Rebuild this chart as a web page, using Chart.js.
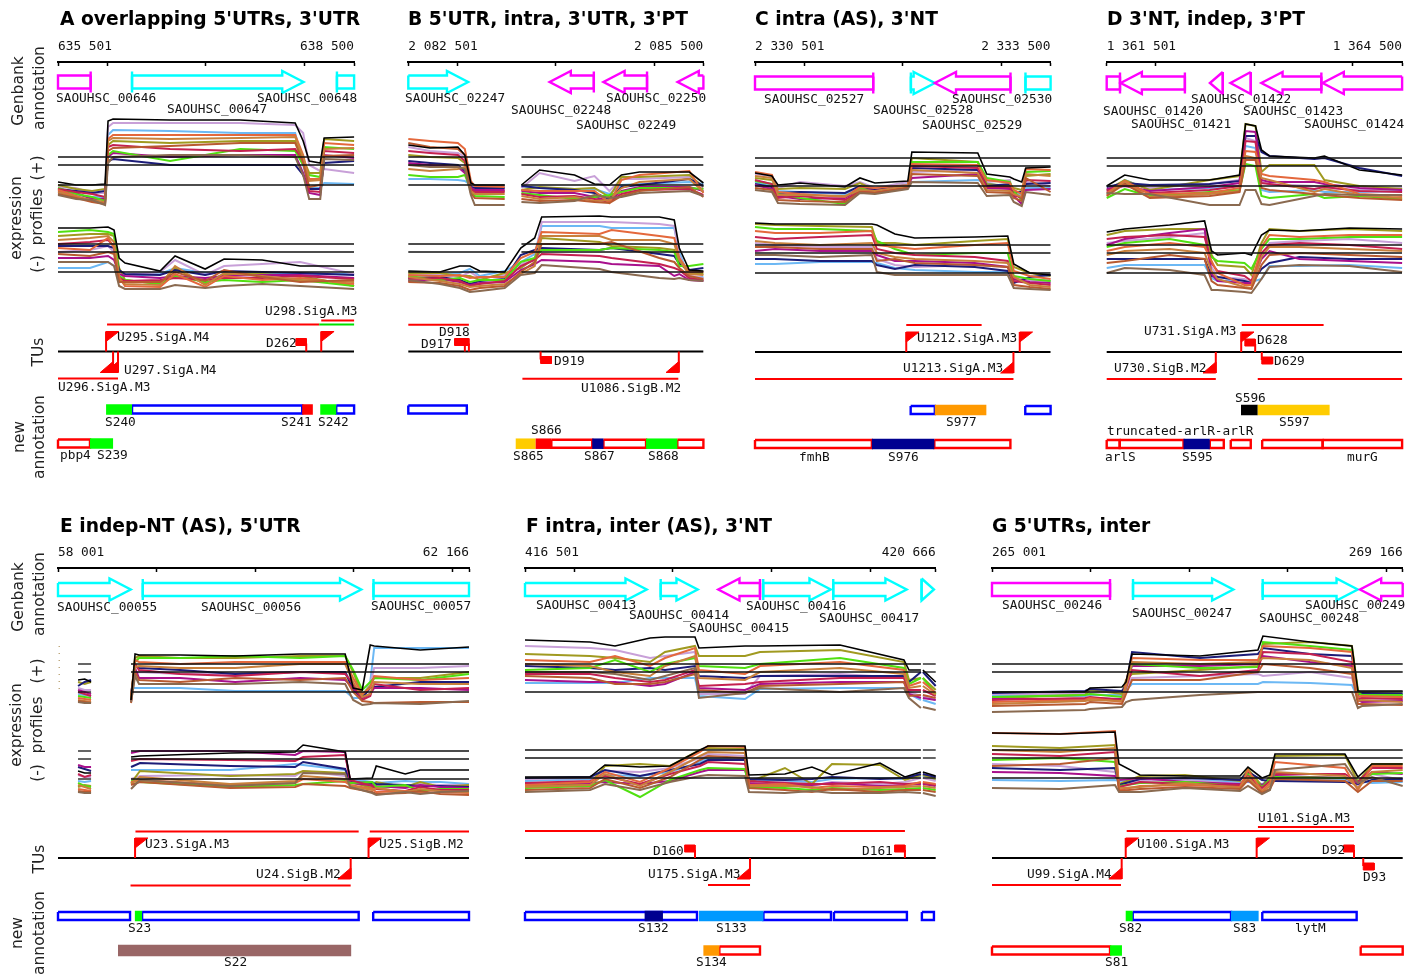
<!DOCTYPE html>
<html><head><meta charset="utf-8"><title>Expression profiles</title>
<script src="https://cdn.jsdelivr.net/npm/chart.js@4"></script>
<style>html,body{margin:0;padding:0;background:#fff;width:1416px;height:974px;overflow:hidden}canvas{position:absolute;display:block}</style>
</head><body>
<script>
// Series colours for the profile arrays, paint order
const profileColors=['#6cb8f4','#c8a0d8','#a09a20','#1c1c78','#a8108c','#50e010','#c42050','#e4683c','#c8803c','#b85a30','#8a6a50','#000000'];

// Panel A
const aPlusX=[0,183,345,477,507,558,1136,1846,2403,2484,2545,2657,2697,3000];
const aPlus=[[-8,-10,-12,-12,50,55,54,52,52,20,-3,-3,2,1],[-2,-3,-8,-8,58,62,62,62,60,52,20,14,16,12],[0,-4,-6,-4,40,44,42,44,44,26,12,12,46,44],[-4,-6,-8,-6,24,26,20,20,20,10,-4,-4,22,24],[-6,-8,-14,-14,28,32,28,30,30,12,-8,-10,30,27],[-3,-9,-12,-16,30,34,24,36,34,20,10,8,38,36],[-4,-7,-9,-12,38,40,36,34,36,24,-6,-7,34,32],[-5,-11,-16,-18,46,50,50,50,50,30,6,6,42,40],[-7,-12,-15,-17,44,47,46,47,48,28,4,5,36,37],[-9,-13,-17,-19,34,37,39,42,42,22,-2,0,29,30],[-10,-14,-15,-20,22,28,30,30,28,10,-14,-14,26,25],[3,0,0,1,64,66,65,65,62,44,24,22,47,48]];
const aMinusX=[0,324,507,568,619,679,1034,1186,1491,1683,2069,2454,3000];
const aMinus=[[4,4,10,6,-4,-4,-2,4,-1,0,-2,-2,-2],[20,22,26,20,-3,-3,0,12,-3,6,8,10,-2],[36,38,38,36,4,-8,-12,4,-12,-2,-2,-4,-14],[26,26,26,24,2,-2,-3,2,-3,1,0,-1,-3],[14,14,16,12,-2,-4,-6,-4,-6,-4,-3,-3,-6],[40,42,40,38,-4,-8,-12,-4,-10,-8,-10,-8,-14],[28,30,32,26,-6,-9,-8,-6,-8,-6,-6,-4,-7],[24,22,34,24,-5,-14,-15,-2,-15,-4,-8,-6,-12],[32,34,36,30,-8,-12,-13,6,-13,-1,-4,-8,-10],[18,16,20,18,-10,-10,-10,0,-9,2,-5,-10,-8],[10,10,10,6,-14,-17,-17,-13,-16,-14,-12,-14,-17],[44,44,45,42,14,9,1,16,3,13,12,6,6]];
const aGenes=[[331,0,'h'],[750,2487,''],[2826,3000,'h']];
const aSpans=[[497,2647,'top','#ff0000'],[2667,3000,'top2','#ff0000'],[2647,3000,'top','#00e000'],[0,608,'low','#ff0000']];
const aMarks=[[487,'F'],[558,'R'],[608,'R'],[2515,'D'],[2667,'F']];
const aBoxesTop=[[750,2474,'b'],[2819,3000,'b'],[487,750,'#00ff00'],[2474,2582,'#ff0000'],[2657,2819,'#00ff00']];
const aBoxesLow=[[0,324,'r'],[324,558,'#00ff00']];
const aText=[['SAOUHSC_00646',56,98],['SAOUHSC_00647',167,109],['SAOUHSC_00648',257,98],['U295.SigA.M4',117,337],['U298.SigA.M3',265,311],['D262',266,343],['U297.SigA.M4',124,370],['U296.SigA.M3',58,387],['S240',105,422],['S241',281,422],['S242',318,422],['pbp4',60,455],['S239',97,455]];

// Panel B
const bPlusX=[0,220,504,575,636,676,980,1150,1335,1690,1893,2045,2167,2349,2857,3000];
const bPlus=[[6,6,5,4,0,-1,-1,-1,-3,-4,-4,-9,0,1,3,1],[38,34,32,28,0,-2,-3,-3,12,4,9,-6,6,6,8,-4],[30,28,27,22,-2,-5,-6,-5,-2,-4,-3,-12,8,8,10,-2],[24,22,20,14,-2,-3,-3,-1,-3,-5,-8,-14,-2,0,6,-1],[22,20,18,12,-3,-5,-5,-6,-8,-8,-12,-16,-6,-2,-2,-6],[10,8,8,10,-4,-11,-12,-8,-10,-14,-12,-10,-7,-3,-3,-4],[34,32,30,24,-4,-7,-7,-9,-12,-11,-14,-17,-9,-5,-4,-10],[46,44,42,36,4,-1,-2,-5,-6,-6,-6,-18,5,10,14,-8],[16,14,16,18,-6,-9,-9,-11,-14,-12,-16,-15,-3,3,6,-7],[42,38,36,30,-8,-13,-14,-14,-16,-15,-17,-18,-11,-6,-2,-12],[20,18,18,16,-10,-20,-20,-17,-18,-16,-10,-13,-12,-8,-6,-11],[40,37,38,30,2,0,0,0,15,10,1,0,10,13,13,2]];
const bMinusX=[0,321,524,626,727,980,1143,1285,1356,1944,2066,2552,2704,2755,2856,3000];
const bMinus=[[-3,-2,-1,3,-4,1,10,18,46,46,44,44,44,20,-6,-5],[-2,-3,-5,0,-6,-3,8,12,50,50,50,48,46,16,-4,-6],[-1,-1,-4,-4,-8,-1,4,14,34,30,26,24,22,10,-1,-2],[-6,-5,-8,-12,-9,-7,17,22,24,22,24,18,16,8,2,4],[-9,-7,-10,-13,-11,-10,2,8,12,10,8,6,-4,-2,-8,-9],[-4,-8,-6,-10,-8,-8,10,14,22,22,24,22,20,6,6,8],[-7,-6,-9,-14,-12,-9,6,12,18,16,14,8,4,2,-6,-8],[-3,-4,-3,-6,-5,-5,14,20,40,38,42,36,34,14,0,0],[-5,-9,-12,-15,-14,-12,-2,6,36,36,32,32,28,12,-2,-3],[-10,-11,-14,-18,-16,-14,0,10,28,28,30,14,10,4,-4,-7],[-8,-12,-16,-20,-19,-16,-3,-1,7,3,0,-6,-7,-6,-8,-9],[1,0,6,6,1,0,24,34,55,56,55,55,52,24,2,1]];
const bGenes=[[0,608,'b'],[1886,1437,''],[2427,1984,''],[3000,2738,'b']];
const bSpans=[[0,616,'top','#ff0000'],[1160,2745,'low','#ff0000']];
const bMarks=[[575,'D'],[616,'D'],[1345,'d'],[2750,'R']];
const bBoxesTop=[[0,595,'b']];
const bBoxesLow=[[1454,1870,'r'],[1984,2417,'r'],[2735,3000,'r'],[1092,1295,'#ffcc00'],[1295,1454,'#ff0000'],[1870,1984,'#000090'],[2417,2735,'#00ff00']];
const bText=[['SAOUHSC_02247',405,98],['SAOUHSC_02248',511,110],['SAOUHSC_02249',576,125],['SAOUHSC_02250',606,98],['D918',439,332],['D917',421,344],['D919',554,361],['U1086.SigB.M2',581,388],['S866',531,430],['S865',513,456],['S867',584,456],['S868',648,456]];

// Panel C
const cPlusX=[0,172,233,456,913,1065,1217,1551,1592,2261,2352,2586,2626,2707,2748,3000];
const cPlus=[[4,0,-5,-6,-8,-2,-4,2,4,6,3,-2,-8,-8,-2,-2],[12,10,-2,4,0,4,-2,4,14,16,4,6,-10,-10,4,0],[8,6,-3,-2,-3,3,-4,-1,28,24,2,0,-2,-4,10,12],[2,-1,-7,-6,-7,0,-4,0,18,16,0,2,-6,-6,2,3],[1,-3,-10,-13,-12,-3,-5,0,8,12,-2,-3,-10,-18,-4,-3],[5,2,-8,-12,-18,-2,-7,-2,24,24,8,4,-5,-14,14,15],[6,2,-12,-10,-14,-5,-6,-1,20,18,-1,-1,-9,-12,6,5],[14,11,-6,-8,-11,-1,-2,1,22,21,6,3,-4,-8,17,16],[10,8,-9,-9,-10,-4,-5,0,16,13,-4,-5,-8,-11,12,10],[-2,-4,-14,-15,-16,-6,-7,-2,12,10,-6,-7,-12,-15,8,-6],[-4,-6,-17,-18,-19,-7,-8,-3,4,3,-10,-9,-16,-20,-6,-9],[13,10,1,3,-1,8,3,5,34,33,12,9,7,4,18,19]];
const cMinusX=[0,203,659,1186,1237,1420,1622,2231,2565,2626,2789,3000];
const cMinus=[[9,9,11,11,10,5,3,1,1,-5,-6,-8],[30,28,26,26,14,8,6,8,6,-5,-7,-8],[49,48,47,46,30,30,28,32,34,6,0,-3],[14,14,12,12,8,4,8,6,2,-10,-4,-2],[22,24,22,22,18,12,12,10,6,-6,-9,-10],[46,44,44,42,32,24,18,20,20,-3,-6,-8],[36,34,36,38,24,20,18,16,12,-8,-10,-12],[42,40,40,42,28,26,24,28,30,2,-3,-6],[32,30,28,30,20,16,14,12,10,-4,-12,-14],[26,26,24,24,12,14,10,8,6,-12,-14,-16],[18,18,16,18,1,-2,-2,-2,-2,-15,-16,-17],[50,49,49,49,48,39,35,36,37,9,0,-2]];
const cGenes=[[1200,0,'h'],[1582,1825,''],[2593,1825,''],[2745,3000,'h']];
const cSpans=[[1535,2300,'top','#ff0000'],[0,2623,'low','#ff0000']];
const cMarks=[[1535,'F'],[2687,'F'],[2623,'R']];
const cBoxesTop=[[1580,1825,'b'],[2743,3000,'b'],[1825,2348,'#ff9900']];
const cBoxesLow=[[0,1186,'r'],[1820,2592,'r'],[1186,1820,'#000090']];
const cText=[['SAOUHSC_02527',764,99],['SAOUHSC_02528',873,110],['SAOUHSC_02529',922,125],['SAOUHSC_02530',952,99],['U1212.SigA.M3',917,338],['U1213.SigA.M3',903,368],['S977',946,422],['fmhB',799,457],['S976',888,457]];

// Panel D
const dPlusX=[0,183,437,1045,1349,1410,1511,1572,1653,2109,2211,2566,3000];
const dPlus=[[-8,6,-4,-2,0,40,38,-4,-6,-4,-6,-6,-5],[-6,4,-2,2,6,48,45,4,2,0,-2,-4,-2],[-4,6,-4,6,10,62,60,14,21,21,6,0,-3],[-1,3,1,2,5,50,50,34,30,27,28,18,10],[-3,0,-5,-1,3,55,54,6,4,4,2,-2,-4],[-12,-3,-10,-6,-4,22,20,-10,-12,-8,-12,-10,-13],[-5,1,-7,-4,0,45,44,3,2,-3,-1,-5,-6],[-7,5,-8,-7,-2,35,34,12,10,6,4,-8,-10],[-9,4,-11,-8,-5,30,28,8,6,-6,-3,-9,-12],[-10,2,-12,-10,-6,26,26,-2,-4,-8,-9,-12,-14],[-7,-8,-8,-19,-19,-4,-4,-18,-19,-10,-8,-9,-9],[0,11,6,6,11,62,60,36,30,28,30,16,11]];
const dMinusX=[0,183,639,994,1065,1126,1399,1470,1572,1653,1957,2464,3000];
const dMinus=[[5,8,8,8,-5,-8,-7,-9,-6,7,7,8,5],[30,32,36,40,6,-4,-6,-10,18,30,32,34,30],[38,42,44,44,18,8,6,-2,30,44,42,44,42],[14,14,14,14,-3,-4,-8,-10,4,10,16,14,14],[28,34,40,44,-1,-8,-10,-10,14,22,14,12,10],[26,30,34,28,16,12,10,4,24,34,34,36,36],[34,36,38,36,10,2,-3,-8,20,28,30,28,24],[22,26,30,26,12,0,-12,-12,26,38,36,38,38],[18,22,24,20,2,-6,-14,-15,16,26,26,24,22],[10,12,18,14,-8,-12,-15,-16,8,18,20,18,16],[0,5,3,-2,-17,-17,-19,-20,-6,6,8,7,1],[41,44,48,52,22,18,20,18,38,43,42,45,44]];
const dGenes=[[135,0,'h'],[794,142,''],[1179,1048,''],[1463,1257,''],[2180,1571,''],[3000,2193,'b']];
const dSpans=[[1372,2203,'top','#ff0000'],[0,1108,'low','#ff0000'],[1534,3000,'low','#ff0000']];
const dMarks=[[1366,'F'],[1508,'D'],[1108,'R'],[1575,'d']];
const dBoxesTop=[[1364,1534,'#000000'],[1534,2264,'#ffcc00']];
const dBoxesLow=[[0,132,'r'],[132,780,'r'],[1047,1189,'r'],[1260,1463,'r'],[1579,2193,'r'],[2193,3000,'r'],[780,1047,'#000090']];
const dText=[['SAOUHSC_01422',1191,99],['SAOUHSC_01420',1103,111],['SAOUHSC_01421',1131,124],['SAOUHSC_01423',1243,111],['SAOUHSC_01424',1304,124],['U731.SigA.M3',1144,331],['D628',1257,340],['D629',1274,361],['U730.SigB.M2',1114,368],['S596',1235,398],['S597',1279,422],['truncated-arlR-arlR',1107,431],['arlS',1105,457],['S595',1182,457],['murG',1347,457]];

// Panel E
const ePlusX=[203,270,335,740,781,821,1237,1795,2454,2910,2991,3083,3164,3204,3671,4165];
const ePlus=[[-2,-3,-4,4,4,4,4,1,1,1,-6,-6,10,44,44,44],[4,2,2,-4,18,20,18,18,20,20,8,-4,8,24,24,26],[10,8,10,-6,34,36,34,34,36,36,20,-3,6,14,14,20],[6,10,12,-2,26,24,22,18,20,20,2,-6,4,5,10,10],[2,0,-2,-8,24,14,14,10,14,12,4,-6,-2,4,4,2],[-4,-5,-6,-8,30,34,34,36,34,36,22,2,10,14,12,18],[0,-2,-4,-10,28,22,18,16,20,18,8,-8,-4,8,2,4],[-6,-7,-8,-4,32,30,28,30,30,30,14,-2,4,16,12,14],[-8,-9,-10,-6,25,26,24,24,28,28,10,-5,-2,10,8,8],[-9,-10,-11,-11,20,12,10,14,12,14,0,-9,-10,-11,-10,-10],[-10,-11,-11,-10,16,8,8,8,10,8,-8,-13,-12,-11,-12,-9],[12,13,10,-8,38,37,37,36,38,38,4,2,47,46,42,45]];
const eMinusX=[203,270,335,740,831,1744,2403,2484,2910,2961,3184,3225,3519,3671,3874,4165];
const eMinus=[[-2,-3,-2,9,9,9,15,14,9,0,-3,-4,-2,-3,-3,-5],[4,2,2,0,3,4,3,8,3,-2,-8,-9,-7,-5,-6,-6],[-8,-6,-7,-4,8,3,5,8,6,-3,-9,-3,-8,-3,-8,-6],[12,10,8,12,16,13,12,17,10,-3,-4,-5,-6,-7,-7,-8],[14,12,12,26,28,28,24,28,27,-4,-6,-7,-9,-6,-8,-9],[-4,-7,-8,-2,-3,-8,-6,-5,-2,-4,-3,-8,-6,-12,-10,-10],[5,2,4,18,20,19,18,22,24,-1,-7,-10,-12,-8,-11,-11],[-10,-11,-12,-3,-1,-6,-4,0,-3,-6,-10,-13,-12,-14,-13,-14],[-6,-8,-10,-5,2,-5,-2,3,0,-7,-11,-9,-13,-10,-12,-13],[-12,-13,-13,-6,-3,-9,-8,-5,-7,-9,-13,-15,-14,-12,-15,-16],[-13,-14,-14,-10,-1,-7,-4,6,5,-8,-14,-16,-13,-15,-13,-12],[8,6,6,22,23,26,27,34,27,0,1,13,5,9,9,9]];
const eGenes=[[0,737,'b'],[859,3073,''],[3197,4165,'h']];
const eSpans=[[785,3047,'top','#ff0000'],[3159,4165,'top','#ff0000'],[735,2966,'low','#ff0000']];
const eMarks=[[781,'F'],[3147,'F'],[2966,'R']];
const eBoxesTop=[[0,730,'b'],[852,3047,'b'],[3194,4165,'b'],[779,852,'#00ff00']];
const eBoxesLow=[[608,2971,'#996666']];
const eText=[['SAOUHSC_00055',57,607],['SAOUHSC_00056',201,607],['SAOUHSC_00057',371,606],['U23.SigA.M3',145,844],['U25.SigB.M2',379,844],['U24.SigB.M2',256,874],['S23',128,928],['S22',224,962]];

// Panel F
const fPlusX=[0,659,913,1268,1420,1724,1764,2231,2383,3194,3843,3894,4015,4035,4165];
const fPlus=[[9,9,9,14,14,14,-4,-7,3,4,4,-2,-8,-8,-12],[46,44,42,34,36,40,-2,-2,16,18,14,0,-4,-4,-8],[38,36,34,30,40,46,36,36,40,42,30,12,14,14,2],[26,24,22,24,22,26,16,14,16,16,16,10,20,20,6],[12,10,10,6,8,20,4,2,8,10,10,-2,-6,-6,-8],[22,24,32,20,28,34,26,24,28,34,24,8,14,14,-2],[18,18,14,10,12,22,6,8,10,14,14,2,2,2,-4],[32,30,36,26,34,44,22,18,26,30,22,6,10,10,-1],[28,26,20,16,26,36,14,12,20,24,18,4,6,6,-3],[16,14,8,8,10,18,2,-1,6,8,10,-4,-3,-3,-6],[20,20,18,12,16,24,-6,-1,4,0,4,-6,-16,-15,-18],[52,50,46,54,55,55,44,46,46,47,32,22,22,22,10]];
const fMinusX=[0,659,811,1166,1470,1775,1856,2231,2271,2636,2910,3113,3600,3853,4015,4035,4165];
const fMinus=[[-3,-1,3,2,6,16,20,18,-2,-3,-4,-1,0,-1,2,2,-2],[-1,0,7,6,10,20,24,22,-6,-4,-8,-4,-6,-4,0,0,-3],[-8,-6,12,14,12,28,30,29,-4,10,-6,14,13,-2,3,3,-1],[0,1,8,2,8,14,18,18,-1,-2,-1,1,-1,0,4,4,1],[-6,-5,-4,-6,-3,6,8,8,-5,-7,-7,-5,-8,-7,-6,-6,-8],[-10,-8,-2,-19,-2,8,10,9,-9,-10,-12,-10,-12,-11,-10,-10,-12],[-5,-3,2,-6,4,12,16,14,-3,-5,-6,-6,-4,-6,-5,-5,-7],[-7,-4,6,-4,10,26,32,31,-7,-6,-10,-8,-9,-8,-4,-4,-6],[-9,-7,4,-8,6,22,26,25,-8,-8,-9,-12,-10,-9,-8,-8,-10],[-12,-10,-1,-10,1,18,22,20,-10,-12,-14,-11,-14,-12,-12,-12,-14],[-14,-12,-6,-12,-4,2,3,2,-14,-15,-13,-15,-15,-14,-15,-15,-18],[1,1,13,11,12,28,32,32,3,4,11,3,15,1,6,6,2]];
const fGenes=[[0,1234,'b'],[1376,1751,''],[2383,1960,''],[2416,3100,''],[3126,3870,''],[4022,4147,'']];
const fSpans=[[0,3853,'top','#ff0000'],[1856,2282,'low','#ff0000']];
const fMarks=[[1724,'D'],[3853,'D'],[2282,'R']];
const fBoxesTop=[[0,1744,'b'],[2418,3103,'b'],[3133,3873,'b'],[4025,4147,'b'],[1213,1399,'#000090'],[1764,2418,'#0099ff']];
const fBoxesLow=[[1971,2383,'r'],[1809,1971,'#ff9900']];
const fText=[['SAOUHSC_00413',536,605],['SAOUHSC_00414',629,615],['SAOUHSC_00415',689,628],['SAOUHSC_00416',746,606],['SAOUHSC_00417',819,618],['D160',653,851],['D161',862,851],['U175.SigA.M3',648,874],['S132',638,928],['S133',716,928],['S134',696,962]];

// Panel G
const gPlusX=[0,943,994,1318,1359,1420,2109,2697,2748,3225,3650,3711,3752,4165];
const gPlus=[[-4,-4,-3,-3,2,8,8,8,10,9,7,-6,-9,-9],[-2,-2,-1,1,4,14,16,18,16,20,14,-4,-6,-8],[-6,-3,2,-2,12,18,22,26,48,50,46,2,-4,-5],[-1,1,3,1,6,40,34,38,44,38,36,-3,-1,-2],[-7,-7,-6,-7,8,26,26,28,36,30,26,-8,-10,-9],[-5,-3,-2,-5,6,28,24,25,50,46,42,-1,-3,-3],[-8,-6,-5,-8,4,22,16,22,40,38,30,-7,-6,-7],[-10,-8,-6,-10,10,34,32,32,46,44,40,-5,-4,-5],[-12,-9,-8,-9,5,30,28,30,34,32,24,-9,-8,-10],[-14,-12,-10,-12,-2,12,12,20,28,24,18,-12,-12,-13],[-20,-18,-17,-15,-10,-8,-3,0,0,0,0,-16,-14,-12],[0,0,4,5,10,38,36,42,56,50,46,1,1,1]];
const gMinusX=[0,690,1247,1288,1501,1957,2515,2596,2738,2819,2870,3579,3711,3853,4165];
const gMinus=[[-2,-3,-2,-3,-2,-2,-4,-4,-6,-4,-3,-2,-3,-5,-4],[14,12,6,-6,-3,-2,-6,-2,-10,-6,2,0,-8,4,-2],[32,30,33,-6,2,3,-3,9,-8,2,22,23,-4,14,14],[10,8,10,-7,-1,0,-2,6,-2,-3,-3,-4,-6,-2,-1],[6,5,2,-2,0,-4,-6,-3,-7,-2,2,0,-5,6,4],[18,20,16,-8,-5,-4,-8,4,-9,-1,1,0,-3,4,5],[24,22,26,-9,-4,-6,-7,2,-10,-3,4,4,-4,10,10],[45,44,47,-12,-8,-7,-9,8,-13,-5,16,10,-12,12,12],[28,26,30,-10,-9,-5,-10,1,-14,-8,6,2,-10,6,8],[12,14,20,-13,-11,-9,-11,-2,-15,-11,-1,-3,-14,-3,-3],[-10,-11,-7,-14,-14,-10,-13,-8,-16,-12,8,14,-5,1,-8],[45,44,46,14,3,2,2,11,0,3,24,24,1,14,14]];
const gGenes=[[1197,0,'h'],[1430,2447,''],[2745,3709,''],[4165,3732,'b']];
const gSpans=[[1366,3671,'top','#ff0000'],[2697,3671,'top2','#ff0000'],[0,1308,'low','#ff0000']];
const gMarks=[[1356,'F'],[2684,'F'],[1315,'R'],[3671,'D'],[3765,'d']];
const gBoxesTop=[[1427,2424,'b'],[2741,3698,'b'],[1356,1427,'#00ff00'],[2424,2704,'#0099ff']];
const gBoxesLow=[[0,1197,'r'],[3739,4165,'r'],[1197,1318,'#00ff00']];
const gText=[['SAOUHSC_00246',1002,605],['SAOUHSC_00247',1132,613],['SAOUHSC_00248',1259,618],['SAOUHSC_00249',1305,605],['U101.SigA.M3',1258,818],['U100.SigA.M3',1137,844],['D92',1322,850],['D93',1363,877],['U99.SigA.M4',1027,874],['S82',1119,928],['S83',1233,928],['lytM',1295,928],['S81',1105,962]];

// Threshold levels above the lowest line (same for both strands)
const thresholdLevels=[0,20,28];
// Rotated row captions
const topCaptions=[['Genbank',19,91],['annotation',40,88],['expression',17,218],['profiles',38,217],['(+)',38,168],['(-)',38,264],['TUs',39,352],['new',20,437],['annotation',40,437]];
const lowCaptions=[['Genbank',19,597],['annotation',40,594],['expression',17,725],['profiles',38,725],['(+)',38,671],['(-)',38,773],['TUs',40,859],['new',18,933],['annotation',40,933]];

const panels=[
{title:"A overlapping 5'UTRs, 3'UTR",tx:60,ty:20,start:635501,span:2999,ticks:[636000,637000,638000],endLabels:['635 501','638 500'],left:0,width:380,x0:58,x1:354,top:0,h:490,low:[185,272],tr:{axis:62,gene:82,top2:320.5,top:324.5,tu:351.5,low:378.5,b1:409.5,b2:443.5},plusX:aPlusX,plus:aPlus,minusX:aMinusX,minus:aMinus,genes:aGenes,spans:aSpans,marks:aMarks,boxT:aBoxesTop,boxL:aBoxesLow,text:aText,caps:topCaptions,gaps:[]},
{title:"B 5'UTR, intra, 3'UTR, 3'PT",tx:408,ty:20,start:2082501,span:2999,ticks:[2083000,2084000,2085000],endLabels:['2 082 501','2 085 500'],left:380,width:348,x0:408.3,x1:703.3,top:0,h:490,low:[185,272],tr:{axis:62,gene:82,top2:320.5,top:324.7,tu:351.5,low:378.7,b1:409.5,b2:443.7},plusX:bPlusX,plus:bPlus,minusX:bMinusX,minus:bMinus,genes:bGenes,spans:bSpans,marks:bMarks,boxT:bBoxesTop,boxL:bBoxesLow,text:bText,gaps:[[980,1150]]},
{title:"C intra (AS), 3'NT",tx:755,ty:20,start:2330501,span:2999,ticks:[2331000,2332000,2333000],endLabels:['2 330 501','2 333 500'],left:728,width:352,x0:755,x1:1050.5,top:0,h:490,low:[186,273],tr:{axis:62,gene:83,top2:320.5,top:325,tu:352,low:379,b1:410,b2:444},plusX:cPlusX,plus:cPlus,minusX:cMinusX,minus:cMinus,genes:cGenes,spans:cSpans,marks:cMarks,boxT:cBoxesTop,boxL:cBoxesLow,text:cText,gaps:[]},
{title:"D 3'NT, indep, 3'PT",tx:1107,ty:20,start:1361501,span:2999,ticks:[1362000,1363000,1364000],endLabels:['1 361 501','1 364 500'],left:1080,width:336,x0:1106.7,x1:1402,top:0,h:490,low:[186,273],tr:{axis:62,gene:83,top2:320.5,top:325,tu:352,low:379,b1:410,b2:444},plusX:dPlusX,plus:dPlus,minusX:dMinusX,minus:dMinus,genes:dGenes,spans:dSpans,marks:dMarks,boxT:dBoxesTop,boxL:dBoxesLow,text:dText,gaps:[]},
{title:"E indep-NT (AS), 5'UTR",tx:60,ty:527,start:58001,span:4165,ticks:[59000,60000,61000,62000],endLabels:['58 001','62 166'],left:0,width:500,x0:58,x1:469,top:490,h:484,low:[692,779],tr:{axis:568,gene:589.5,top2:827,top:831.5,tu:858,low:885.5,b1:916,b2:950.5},plusX:ePlusX,plus:ePlus,minusX:eMinusX,minus:eMinus,genes:eGenes,spans:eSpans,marks:eMarks,boxT:eBoxesTop,boxL:eBoxesLow,text:eText,caps:lowCaptions,gaps:[[0,203],[335,740]]},
{title:"F intra, inter (AS), 3'NT",tx:526,ty:527,start:416501,span:4165,ticks:[417000,418000,419000,420000],endLabels:['416 501','420 666'],left:500,width:465,x0:525,x1:935.7,top:490,h:484,low:[692,778],tr:{axis:568,gene:589.5,top2:827,top:831,tu:858,low:885,b1:916,b2:950.5},plusX:fPlusX,plus:fPlus,minusX:fMinusX,minus:fMinus,genes:fGenes,spans:fSpans,marks:fMarks,boxT:fBoxesTop,boxL:fBoxesLow,text:fText,gaps:[[4015,4035]]},
{title:"G 5'UTRs, inter",tx:992,ty:527,start:265001,span:4165,ticks:[266000,267000,268000,269000],endLabels:['265 001','269 166'],left:965,width:451,x0:992,x1:1402.7,top:490,h:484,low:[692,778],tr:{axis:568,gene:589.5,top2:827,top:831,tu:858,low:885,b1:916,b2:950.5},plusX:gPlusX,plus:gPlus,minusX:gMinusX,minus:gMinus,genes:gGenes,spans:gSpans,marks:gMarks,boxT:gBoxesTop,boxL:gBoxesLow,text:gText,gaps:[]}
];

const MONO='12.8px "DejaVu Sans Mono"';
function lineDs(points,color,width,axis,extra){return Object.assign({data:points,borderColor:color,backgroundColor:color,borderWidth:width,showLine:true,pointRadius:0,tension:0,clip:false,yAxisID:axis||'y',borderJoinStyle:'miter'},extra||{});}

function geneOutline(p,g){
  const [a,b,flag]=g, S=p.start, yc=p.tr.gene, dir=b>a?1:-1, len=Math.abs(b-a), head=215;
  let pts;
  if(flag==='h') pts=[[a,-6.5],[b,-6.5],[b,6.5],[a,6.5],[a,-6.5]];
  else if(len<=head) pts=[[a,-11],[b,0],[a,11],[a,-11]];
  else{const n=b-dir*head; pts=[[a,-6.5],[n,-6.5],[n,-11],[b,0],[n,11],[n,6.5],[a,6.5],[a,-6.5]];}
  return pts.map(q=>({x:S+q[0],y:yc+q[1]}));
}
function profileDatasets(p,xs,rows,axis,gaps){
  return rows.map((row,i)=>{
    const pts=[];
    xs.forEach((x,k)=>{
      gaps.forEach(g=>{if(x>=g[1]&&k>0&&xs[k-1]<=g[0])pts.push({x:p.start+(g[0]+g[1])/2,y:null});});
      pts.push({x:p.start+x,y:row[k]});
    });
    return lineDs(pts,profileColors[i],i===11?1.6:2,axis,{spanGaps:false});
  });
}
function thresholdDatasets(p,axis){
  const segs=[];let from=0;const end=p.span;
  p.gaps.forEach(g=>{if(g[0]>from)segs.push([from,g[0]]);from=g[1];});
  segs.push([from,end]);
  const out=[];
  thresholdLevels.forEach(l=>segs.forEach(s=>out.push(lineDs([{x:p.start+s[0],y:l},{x:p.start+s[1],y:l}],'#111',1.3,axis))));
  return out;
}
function markDatasets(p,m){
  const S=p.start,t=p.tr.tu,x=S+m[0],out=[],red='#ff0000',fl=130;
  const poly=(pts)=>lineDs(pts,red,1,'y',{fill:'shape'});
  if(m[1]==='F'){
    out.push(lineDs([{x,y:t},{x,y:t-20}],red,2));
    out.push(poly([{x,y:t-20},{x:x+fl,y:t-20},{x,y:t-10},{x,y:t-20}]));
  }else if(m[1]==='R'){
    out.push(lineDs([{x,y:t},{x,y:t+21}],red,2));
    out.push(poly([{x,y:t+21},{x:x-fl,y:t+21},{x,y:t+10},{x,y:t+21}]));
  }else if(m[1]==='D'){
    out.push(lineDs([{x,y:t},{x,y:t-8}],red,2));
    out.push(poly([{x:x-105,y:t-13},{x,y:t-13},{x,y:t-6},{x:x-105,y:t-6},{x:x-105,y:t-13}]));
  }else{
    out.push(lineDs([{x,y:t},{x,y:t+8}],red,2));
    out.push(poly([{x,y:t+5},{x:x+110,y:t+5},{x:x+110,y:t+12},{x,y:t+12},{x,y:t+5}]));
  }
  return out;
}
function boxDatasets(p,rows,track,thick){
  const y=p.tr[track],S=p.start;
  return rows.map(b=>{
    const [a,e,k]=b;
    if(k==='b'||k==='r'){
      const c=k==='b'?'#0000ff':'#ff0000';
      return lineDs([{x:S+a,y:y-4},{x:S+e,y:y-4},{x:S+e,y:y+4},{x:S+a,y:y+4},{x:S+a,y:y-4}],c,2.4);
    }
    return lineDs([{x:S+a,y},{x:S+e,y}],k,thick);
  });
}
function textPlugin(p){
  return {id:'panelText',afterDraw(chart){
    const c=chart.ctx;c.save();c.fillStyle='#000';c.textAlign='left';c.textBaseline='middle';
    c.font='bold 18.7px "DejaVu Sans"';c.fillText(p.title,p.tx-p.left,p.ty-p.top);
    c.fillStyle='#111';c.font=MONO;
    p.text.forEach(t=>c.fillText(t[0],t[1]-p.left,t[2]+0.5-p.top));
    if(p.caps){c.font='15.5px "DejaVu Sans"';c.textAlign='center';c.fillStyle='#222';
      p.caps.forEach(t=>{c.save();c.translate(t[1]-p.left,t[2]-p.top);c.rotate(-Math.PI/2);c.fillText(t[0],0,0);c.restore();});}
    c.restore();
  }};
}
panels.forEach(p=>{
  const cv=document.createElement('canvas');
  cv.width=p.width;cv.height=p.h;cv.style.left=p.left+'px';cv.style.top=p.top+'px';cv.style.width=p.width+'px';cv.style.height=p.h+'px';
  document.body.appendChild(cv);
  let ds=[];
  ds=ds.concat(profileDatasets(p,p.plusX,p.plus,'yP',p.gaps),profileDatasets(p,p.minusX,p.minus,'yM',p.gaps));
  ds=ds.concat(thresholdDatasets(p,'yP'),thresholdDatasets(p,'yM'));
  if(p===panels[4]) ds.push(lineDs([{x:p.start+12,y:46},{x:p.start+12,y:2}],'#a08040',1,'yP',{borderDash:[1,6]}));
  p.genes.forEach(g=>{
    const col=g[1]>g[0]?'#00ffff':'#ff00ff';
    ds.push(lineDs(geneOutline(p,g),col,2.4));
    if(g[2]!=='b') ds.push(lineDs([{x:p.start+g[0],y:p.tr.gene-10.5},{x:p.start+g[0],y:p.tr.gene+10.5}],col,2.4));
  });
  ds.push(lineDs([{x:p.start,y:p.tr.tu},{x:p.start+p.span,y:p.tr.tu}],'#000',2));
  p.spans.forEach(s=>ds.push(lineDs([{x:p.start+s[0],y:p.tr[s[2]]},{x:p.start+s[1],y:p.tr[s[2]]}],s[3],2)));
  p.marks.forEach(m=>{ds=ds.concat(markDatasets(p,m));});
  ds=ds.concat(boxDatasets(p,p.boxT,'b1',10.5),boxDatasets(p,p.boxL,'b2',p===panels[4]?11.5:10.5));
  ds.reverse();
  const bottom=p.top+p.h;
  new Chart(cv,{type:'scatter',data:{datasets:ds},plugins:[textPlugin(p)],options:{
    responsive:false,animation:false,devicePixelRatio:1,events:[],
    layout:{padding:{left:p.x0-p.left,right:p.left+p.width-p.x1,top:0,bottom:0}},
    plugins:{legend:{display:false},tooltip:{enabled:false},title:{display:false}},
    scales:{
      x:{type:'linear',min:p.start,max:p.start+p.span,position:{y:p.tr.axis},
        afterBuildTicks:s=>{s.ticks=[p.start].concat(p.ticks,[p.start+p.span]).map(v=>({value:v}));},
        grid:{drawOnChartArea:false,tickLength:3,tickColor:'#000',tickWidth:1.5},
        border:{display:true,color:'#000',width:2},
        ticks:{autoSkip:false,maxRotation:0,align:'inner',padding:-26,color:'#111',font:{family:'"DejaVu Sans Mono"',size:12.8},
          callback:(v,i,arr)=>i===0?p.endLabels[0]:(i===arr.length-1?p.endLabels[1]:'')}},
      y:{display:false,reverse:true,min:p.top,max:bottom},
      yP:{display:false,min:p.low[0]-bottom,max:p.low[0]-p.top},
      yM:{display:false,min:p.low[1]-bottom,max:p.low[1]-p.top}
    }
  }});
});
</script>
</body></html>
